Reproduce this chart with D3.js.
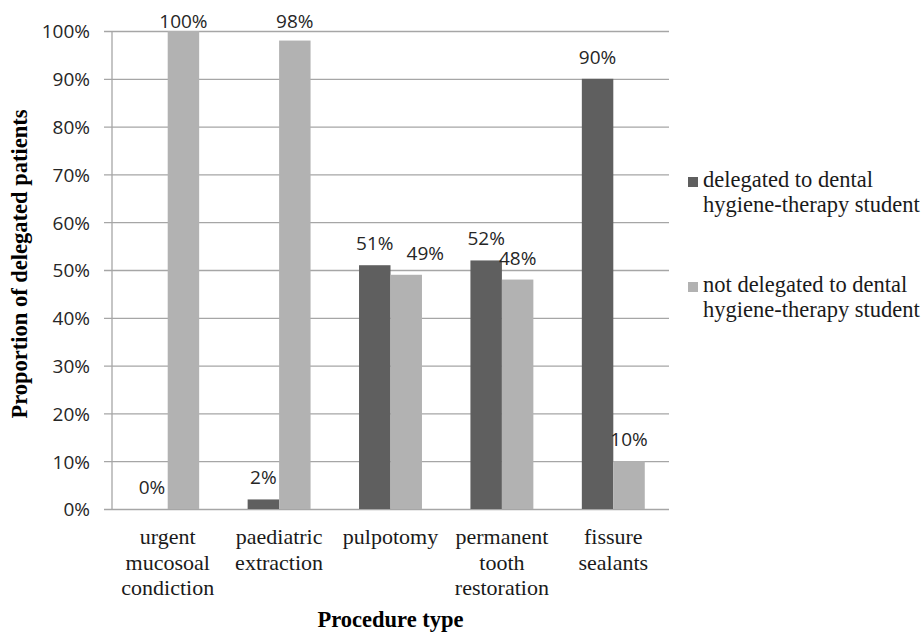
<!DOCTYPE html>
<html>
<head>
<meta charset="utf-8">
<script src="https://cdn.jsdelivr.net/npm/d3@7"></script>
<style>
  body { margin: 0; background: #fff; }
  svg { display: block; }
  .tick-y { font-family: "Open Sans", sans-serif; font-size: 19px; fill: #262626; }
  .val { font-family: "Open Sans", sans-serif; font-size: 19px; fill: #262626; }
  .cat { font-family: "Liberation Serif", "Times New Roman", serif; font-size: 22px; fill: #1a1a1a; }
  .ttl { font-family: "Liberation Serif", "Times New Roman", serif; font-size: 22.5px; font-weight: bold; fill: #000; }
  .leg { font-family: "Liberation Serif", "Times New Roman", serif; font-size: 22.5px; fill: #1a1a1a; }
</style>
</head>
<body>
<svg id="chart" width="922" height="632"></svg>
<script>
// ---- data ----
const categories = [
  [ "urgent", "mucosoal", "condiction" ],
  [ "paediatric", "extraction" ],
  [ "pulpotomy" ],
  [ "permanent", "tooth", "restoration" ],
  [ "fissure", "sealants" ],
];
const delegated = [ 0, 2, 51, 52, 90 ];     // % delegated to student
const notDelegated = [ 100, 98, 49, 48, 10 ]; // % not delegated
const seriesNames = [
  [ "delegated to dental", "hygiene-therapy student" ],
  [ "not delegated to dental", "hygiene-therapy student" ],
];
const yTicks = [ 0, 10, 20, 30, 40, 50, 60, 70, 80, 90, 100 ];
const colors = [ "#5f5f5f", "#b2b2b2" ];

// ---- layout ----
const svg = d3.select( "#chart" );
const plotL = 112, plotR = 669, plotT = 31, plotB = 509;
const tickOut = 8;

const xScale = d3.scaleBand()
  .domain( d3.range( categories.length ) )
  .range( [ plotL, plotR ] )
  .paddingInner( 0 )
  .paddingOuter( 0 );

const xSub = d3.scaleBand()
  .domain( [ 0, 1 ] )
  .range( [ 0, xScale.bandwidth() ] )
  .paddingInner( 0 )
  .paddingOuter( 0.77 );

const yScale = d3.scaleLinear()
  .domain( [ 0, 100 ] )
  .range( [ plotB, plotT ] );

// gridlines + y axis labels (axis sits at the outer end of the tick marks)
const yAxis = d3.axisLeft( yScale )
  .tickValues( yTicks )
  .tickSize( -( plotR - plotL + tickOut ) )
  .tickFormat( d => d + "%" );

const gAxis = svg.append( "g" )
  .attr( "transform", `translate(${plotL - tickOut},0)` )
  .call( yAxis );
gAxis.select( ".domain" ).remove();
gAxis.selectAll( ".tick line" ).attr( "stroke", "#a6a6a6" ).attr( "stroke-width", 1.3 );
gAxis.selectAll( ".tick text" )
  .attr( "class", "tick-y" )
  .attr( "x", -14 )
  .attr( "dy", "0.36em" );

// left axis line
svg.append( "line" )
  .attr( "x1", plotL ).attr( "x2", plotL )
  .attr( "y1", plotT ).attr( "y2", plotB )
  .attr( "stroke", "#a6a6a6" ).attr( "stroke-width", 1.3 );

// label baseline: just above the bar, kept inside the top of the chart
const labelY = d => Math.max( yScale( d ) - 15, 28 );

// bars
const series = [ delegated, notDelegated ];
series.forEach( ( vals, s ) => {
  svg.append( "g" ).selectAll( "rect" )
    .data( vals )
    .enter()
    .append( "rect" )
    .attr( "x", ( d, i ) => xScale( i ) + xSub( s ) )
    .attr( "width", xSub.bandwidth() )
    .attr( "y", d => yScale( d ) )
    .attr( "height", d => plotB - yScale( d ) )
    .attr( "fill", colors[ s ] );

  // value labels; second series label moves right when it would hit its neighbour
  svg.append( "g" ).selectAll( "text" )
    .data( vals )
    .enter()
    .append( "text" )
    .attr( "class", "val" )
    .attr( "text-anchor", "middle" )
    .attr( "x", ( d, i ) => {
      let cx = xScale( i ) + xSub( s ) + xSub.bandwidth() / 2;
      if ( s === 1 && Math.abs( labelY( d ) - labelY( delegated[ i ] ) ) < 15 && d < 90 ) cx += 19;
      return cx;
    } )
    .attr( "y", d => labelY( d ) )
    .text( d => d + "%" );
} );

// category labels
const catG = svg.append( "g" ).selectAll( "text" )
  .data( categories )
  .enter()
  .append( "text" )
  .attr( "class", "cat" )
  .attr( "text-anchor", "middle" )
  .attr( "transform", ( d, i ) => `translate(${xScale( i ) + xScale.bandwidth() / 2},544)` );
catG.selectAll( "tspan" )
  .data( d => d )
  .enter()
  .append( "tspan" )
  .attr( "x", 0 )
  .attr( "y", ( d, i ) => i * 25.5 )
  .text( d => d );

// axis titles
svg.append( "text" )
  .attr( "class", "ttl" )
  .attr( "text-anchor", "middle" )
  .attr( "x", ( plotL + plotR ) / 2 )
  .attr( "y", 627 )
  .text( "Procedure type" );

svg.append( "text" )
  .attr( "class", "ttl" )
  .attr( "text-anchor", "middle" )
  .attr( "transform", "translate(27,264) rotate(-90)" )
  .text( "Proportion of delegated patients" );

// legend
const legY = [ 187, 292 ];
const leg = svg.append( "g" ).selectAll( "g" )
  .data( seriesNames )
  .enter()
  .append( "g" )
  .attr( "transform", ( d, i ) => `translate(688,${legY[ i ]})` );
leg.append( "rect" )
  .attr( "x", 0 ).attr( "y", -10 )
  .attr( "width", 10 ).attr( "height", 10 )
  .attr( "fill", ( d, i ) => colors[ i ] );
leg.append( "text" )
  .attr( "class", "leg" )
  .selectAll( "tspan" )
  .data( d => d )
  .enter()
  .append( "tspan" )
  .attr( "x", 15 )
  .attr( "y", ( d, i ) => i * 25 )
  .text( d => d );
</script>
</body>
</html>
